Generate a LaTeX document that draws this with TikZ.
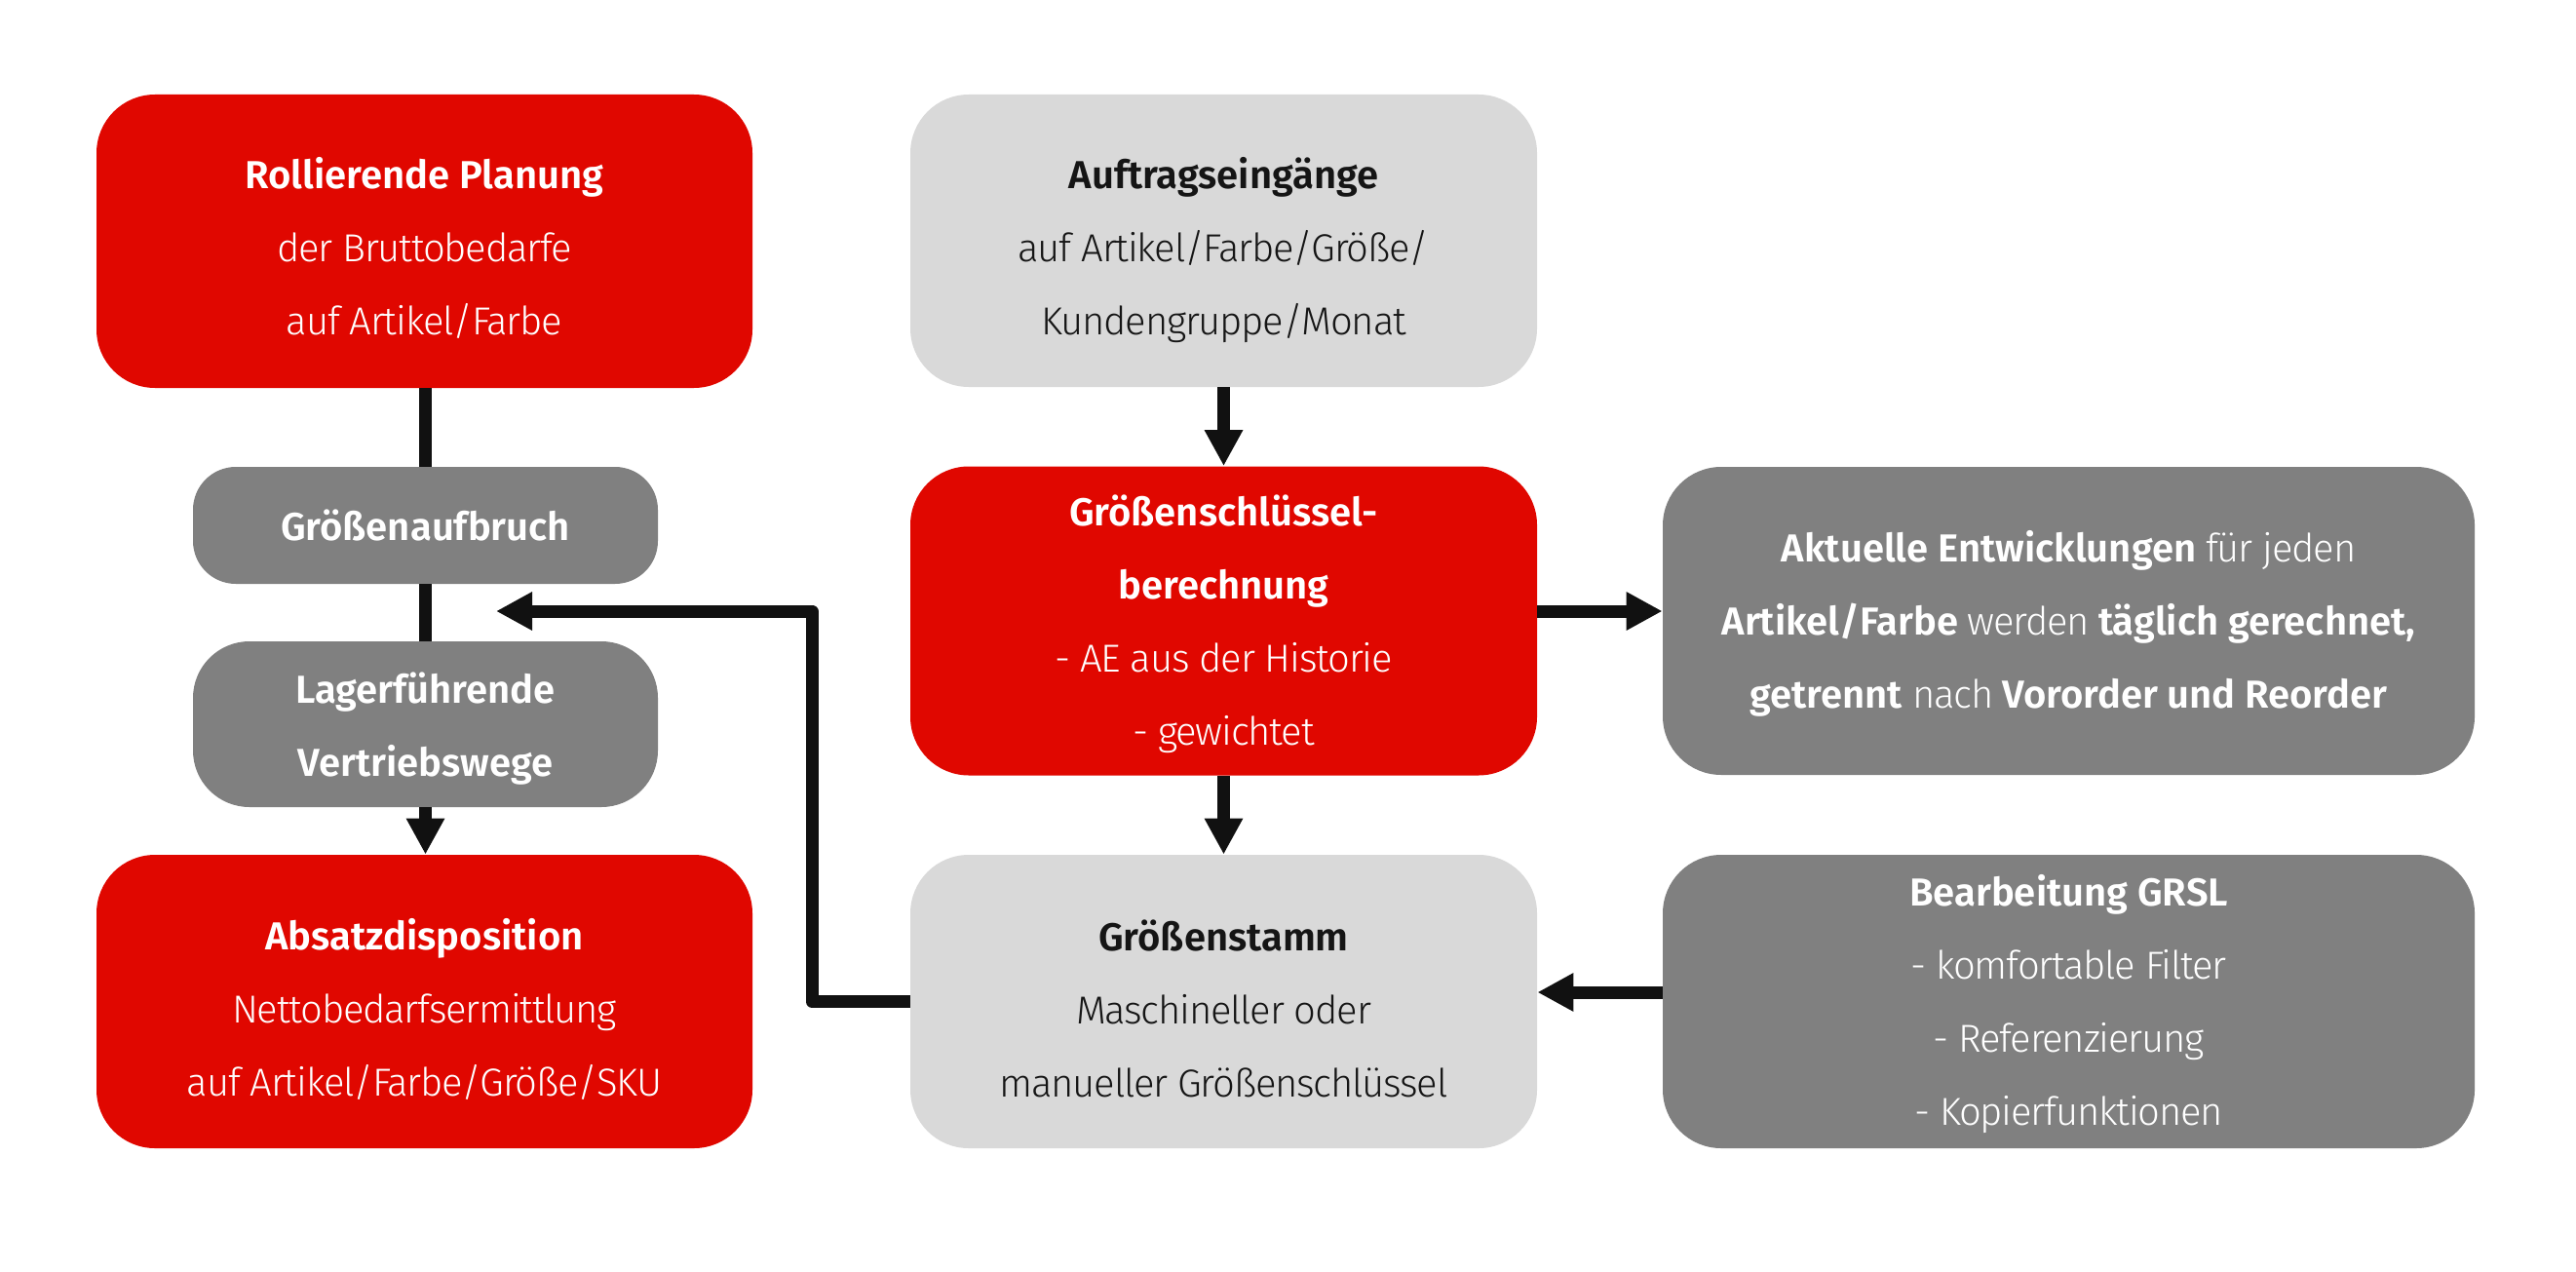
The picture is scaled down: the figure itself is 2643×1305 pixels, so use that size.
\documentclass[tikz,border=0pt]{standalone}
\usepackage{fontspec}
\setmainfont{Fira Sans}[UprightFont=* Light, BoldFont=* SemiBold, UprightFeatures={LetterSpace=-3}]
\usetikzlibrary{arrows.meta}
\definecolor{cred}{HTML}{E00700}
\definecolor{cdark}{HTML}{808080}
\definecolor{clight}{HTML}{D9D9D9}
\definecolor{cline}{HTML}{111111}
\definecolor{ctext}{HTML}{151515}
\tikzset{
  box/.style={rectangle, rounded corners=30pt, inner sep=0pt},
  redbox/.style={box, fill=cred},
  darkbox/.style={box, fill=cdark},
  lightbox/.style={box, fill=clight},
  txt/.style={inner sep=0pt, align=center, font=\fontsize{20}{37.5}\selectfont},
  txtw/.style={txt, text=white},
  txtd/.style={txt, text=ctext},
  conn/.style={draw=cline, line width=6.5pt, line join=round},
  arr/.style={conn, -{Triangle[width=18.5pt,length=18.5pt]}},
}
\begin{document}
\begin{tikzpicture}[x=0.5pt,y=-0.5pt]
\fill[white] (0,0) rectangle (2643,1305);
\useasboundingbox (0,0) rectangle (2643,1305);
% left column
\node[redbox, minimum width=336.5pt, minimum height=150.5pt] (roll) at (435.5,247.5) {};
\node[txtw] (rollt) at ([yshift=-3.5pt]roll.center)
  {\textbf{Rollierende Planung}\\der Bruttobedarfe\\auf Artikel/Farbe};
\node[darkbox, rounded corners=22pt, minimum width=238.5pt, minimum height=60pt] (gauf) at (436.5,539) {};
\node[txtw] (gauft) at (gauf.center) {\textbf{Größenaufbruch}};
\node[darkbox, rounded corners=29pt, minimum width=238.5pt, minimum height=85pt] (lager) at (436.5,743) {};
\node[txtw] (lagert) at ([yshift=-2.5pt]lager.center)
  {\textbf{Lagerführende}\\\textbf{Vertriebswege}};
\node[redbox, minimum width=336.5pt, minimum height=150.5pt] (absatz) at (435.5,1027.5) {};
\node[txtw] (absatzt) at ([yshift=-4pt]absatz.center)
  {\textbf{Absatzdisposition}\\Nettobedarfsermittlung\\auf Artikel/Farbe/Größe/SKU};
% middle column
\node[lightbox, minimum width=321.5pt, minimum height=150pt] (auftrag) at (1255.5,247) {};
\node[txtd] (auftragt) at ([yshift=-5pt]auftrag.center)
  {\textbf{Auftragseingänge}\\auf Artikel/Farbe/Größe/\\Kundengruppe/Monat};
\node[redbox, minimum width=321.5pt, minimum height=158.5pt] (gsb) at (1255.5,637) {};
\node[txtw] (gsbt) at ([yshift=-1.5pt]gsb.center)
  {\textbf{Größenschlüssel-}\\\textbf{berechnung}\\- AE aus der Historie\\- gewichtet};
\node[lightbox, minimum width=321.5pt, minimum height=150.5pt] (gst) at (1255.5,1027.5) {};
\node[txtd] (gstt) at ([yshift=-3.5pt]gst.center)
  {\textbf{Größenstamm}\\Maschineller oder\\manueller Größenschlüssel};
% right column
\node[darkbox, minimum width=416.5pt, minimum height=158pt] (akt) at (2122.5,637) {};
\node[txtw] (aktt) at ([yshift=-1.5pt]akt.center)
  {\textbf{Aktuelle Entwicklungen} für jeden\\\textbf{Artikel/Farbe} werden \textbf{täglich gerechnet,}\\\textbf{getrennt} nach \textbf{Vororder und Reorder}};
\node[darkbox, minimum width=416.5pt, minimum height=150.5pt] (bearb) at (2122.5,1027.5) {};
\node[txtw] (bearbt) at ([yshift=-1.5pt]bearb.center)
  {\textbf{Bearbeitung GRSL}\\- komfortable Filter\\- Referenzierung\\- Kopierfunktionen};
% helper coordinates
\coordinate (yakt) at (0,627);
\coordinate (ybearb) at (0,1018);
\coordinate (fb1) at (833,1027.5);
\coordinate (fb2) at (833,627);
\coordinate (fbtip) at (509,627);
% connectors
\draw[conn] (roll.south -| gauf.north) -- (gauf.north);
\draw[conn] (gauf.south) -- (lager.north);
\draw[arr] (lager.south) -- (lager.south |- absatz.north);
\draw[arr] (auftrag.south) -- (gsb.north);
\draw[arr] (gsb.south) -- (gst.north);
\draw[arr] (gsb.east |- yakt) -- (akt.west |- yakt);
\draw[arr] (bearb.west |- ybearb) -- (gst.east |- ybearb);
\draw[arr] (gst.west) -- (fb1) -- (fb2) -- (fbtip);
\end{tikzpicture}
\end{document}
